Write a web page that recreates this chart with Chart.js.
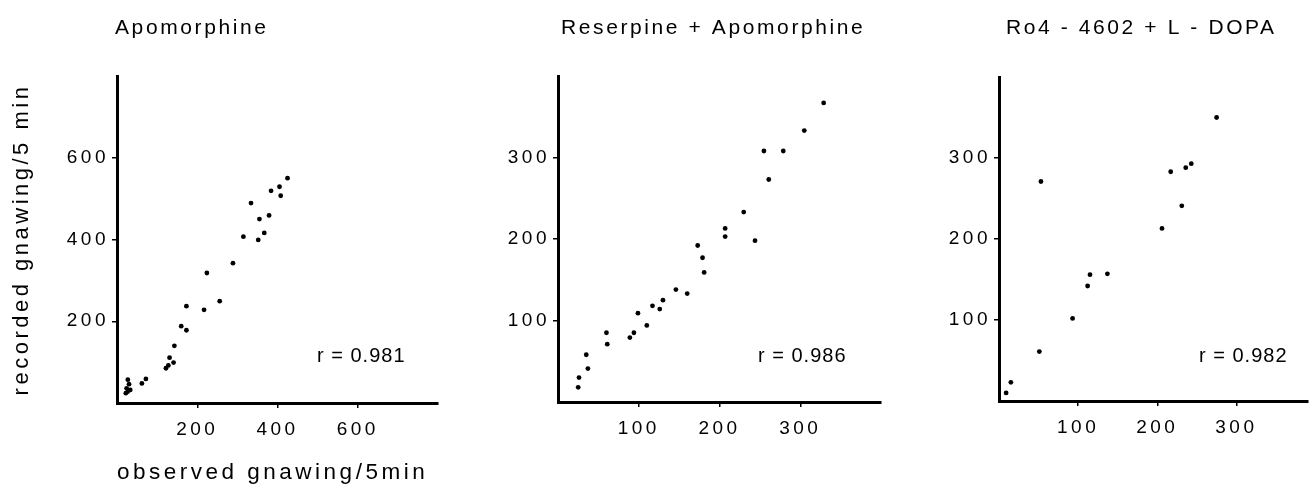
<!DOCTYPE html>
<html>
<head>
<meta charset="utf-8">
<script src="https://cdn.jsdelivr.net/npm/chart.js@4.4.1/dist/chart.umd.min.js"></script>
<style>
  body { margin: 0; background: #fff; }
  #wrap { position: relative; width: 1310px; height: 487px; overflow: hidden; }
  canvas { position: absolute; top: 0; }
</style>
</head>
<body>
<div id="wrap">
  <canvas id="apo" width="450" height="487" style="left:0px"></canvas>
  <canvas id="res" width="440" height="487" style="left:450px"></canvas>
  <canvas id="ro" width="420" height="487" style="left:890px"></canvas>
</div>
<script>
// panel titles and correlation labels
const panelTitles = ['Apomorphine', 'Reserpine + Apomorphine', 'Ro4 - 4602 + L - DOPA'];
const rLabels = ['r = 0.981', 'r = 0.986', 'r = 0.982'];
const xAxisTitle = 'observed gnawing/5min';
const yAxisTitle = 'recorded gnawing/5 min';

// Apomorphine: observed vs recorded
const apoObserved = [425, 405, 384, 408, 334, 379, 355, 367, 315, 352, 289, 224, 256, 217, 173, 160, 173, 143, 131, 141, 122, 128, 72, 62, 27, 30, 24, 27, 33, 22];
const apoRecorded = [550, 529, 519, 507, 489, 459, 450, 416, 407, 399, 342, 318, 249, 228, 237, 188, 178, 140, 111, 99, 85, 92, 59, 48, 57, 46, 36, 28, 32, 24];

// Reserpine + Apomorphine
const resObserved = [329, 305, 255, 279, 261, 230, 207, 207, 244, 173, 179, 181, 146, 160, 130, 117, 126, 99, 110, 94, 89, 60, 61, 35, 37, 26, 25];
const resRecorded = [367, 333, 308, 308, 273, 233, 213, 203, 198, 192, 177, 159, 138, 133, 125, 118, 114, 109, 94, 85, 79, 85, 71, 58, 41, 30, 18];

// Ro4-4602 + L-DOPA
const roObserved = [275, 243, 236, 217, 53, 231, 206, 137, 115, 112, 93, 51, 15, 9];
const roRecorded = [350, 293, 288, 283, 271, 241, 213, 157, 156, 142, 102, 61, 23, 10];

// axis ranges and tick labels
const apoMax = [800, 800];
const resMax = [400, 400];
const roMax = [390, 400];
const apoTicks = [200, 400, 600];
const resTicks = [100, 200, 300];
const roTicks = [100, 200, 300];

const ink = '#000';
const fontFamily = '"Liberation Sans", Arial, Helvetica, sans-serif';

const spacingPlugin = {
  id: 'spacing',
  beforeDraw(chart) { chart.ctx.letterSpacing = '3.5px'; }
};

const panelText = {
  id: 'panelText',
  afterDraw(chart, args, opts) {
    const ctx = chart.ctx;
    const area = chart.chartArea;
    ctx.save();
    ctx.fillStyle = ink;
    ctx.textAlign = 'left';
    ctx.textBaseline = 'alphabetic';
    ctx.font = '21px ' + fontFamily;
    ctx.letterSpacing = '2.6px';
    ctx.fillText(opts.title, area.left + opts.titleShift, 34);
    ctx.font = '20px ' + fontFamily;
    ctx.letterSpacing = '1px';
    ctx.fillText(opts.r, area.left + 200, 362);
    ctx.restore();
  }
};

function makeChart(id, xs, ys, max, ticks, cfg) {
  const points = xs.map((x, i) => ({ x: x, y: ys[i] }));
  const tickFont = { family: fontFamily, size: 19 };
  return new Chart(document.getElementById(id), {
    type: 'scatter',
    data: {
      datasets: [{
        data: points,
        backgroundColor: ink,
        borderWidth: 0,
        pointRadius: 2.4,
        pointHoverRadius: 2.4
      }]
    },
    options: {
      responsive: false,
      animation: false,
      events: [],
      layout: { padding: { top: cfg.top, right: cfg.right, left: 0, bottom: 0 } },
      plugins: {
        legend: { display: false },
        tooltip: { enabled: false },
        panelText: { title: cfg.title, r: cfg.r, titleShift: cfg.titleShift }
      },
      scales: {
        x: {
          type: 'linear',
          min: 0,
          max: max[0],
          afterBuildTicks: s => { s.ticks = ticks.map(v => ({ value: v })); },
          afterFit: s => { s.height = 487 - cfg.bottom; },
          border: { display: true, color: ink, width: 3 },
          grid: { drawOnChartArea: false, drawTicks: true, tickLength: 5, color: ink, lineWidth: 1.5 },
          ticks: { color: ink, font: tickFont, padding: 10, maxRotation: 0 },
          title: {
            display: cfg.showTitles,
            text: xAxisTitle,
            align: 'start',
            color: ink,
            font: { family: fontFamily, size: 22.5 },
            padding: { top: 0, bottom: 1 }
          }
        },
        y: {
          type: 'linear',
          min: 0,
          max: max[1],
          afterBuildTicks: s => { s.ticks = ticks.map(v => ({ value: v })); },
          afterFit: s => { s.width = cfg.left; },
          border: { display: true, color: ink, width: 3 },
          grid: { drawOnChartArea: false, drawTicks: true, tickLength: 5, color: ink, lineWidth: 1.5 },
          ticks: { color: ink, font: tickFont, padding: 3 },
          title: {
            display: cfg.showTitles,
            text: yAxisTitle,
            color: ink,
            font: { family: fontFamily, size: 22 },
            padding: { top: 9, bottom: 0 }
          }
        }
      }
    },
    plugins: [spacingPlugin, panelText]
  });
}

makeChart('apo', apoObserved, apoRecorded, apoMax, apoTicks,
  { title: panelTitles[0], r: rLabels[0], titleShift: -2, top: 76, right: 12, left: 117, bottom: 403, showTitles: true });
makeChart('res', resObserved, resRecorded, resMax, resTicks,
  { title: panelTitles[1], r: rLabels[1], titleShift: 3, top: 76, right: 9, left: 108, bottom: 402, showTitles: false });
makeChart('ro', roObserved, roRecorded, roMax, roTicks,
  { title: panelTitles[2], r: rLabels[2], titleShift: 7, top: 77, right: 0, left: 109, bottom: 401, showTitles: false });
</script>
</body>
</html>
